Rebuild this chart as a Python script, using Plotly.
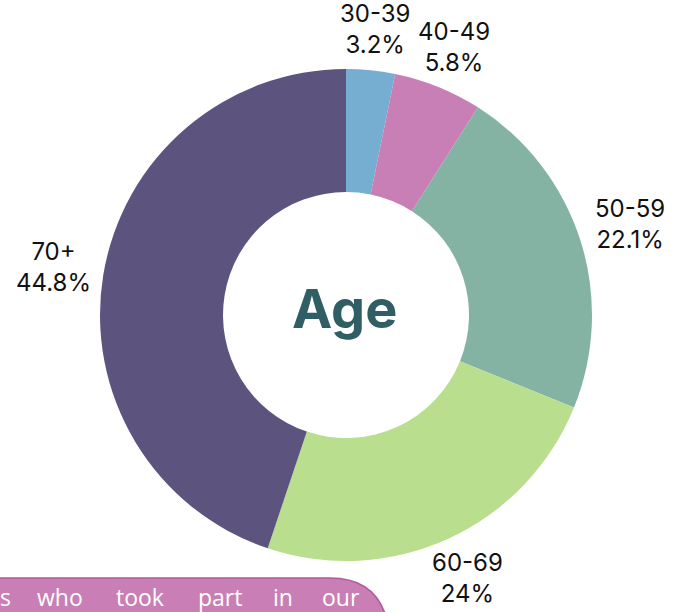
import math
import plotly.graph_objects as go

labels = ["30-39", "40-49", "50-59", "60-69", "70+"]
values = [3.2, 5.8, 22.1, 24, 44.8]
colors = ["#76AED1", "#C87FB6", "#84B3A4", "#B8DE8E", "#5C547F"]
center_title = "Age"
footer_words = ["s", "who", "took", "part", "in", "our"]
footer_x_px = [5, 60, 140, 220, 283, 341]

W, H = 673, 612
OFF = 0  # body margin removed via post_script


def px(x):
    return (x - OFF) / W


def py(y):
    return 1 - (y - OFF) / H


CX, CY, R = 346, 315, 246
LABEL_FONT = dict(family="Inter, sans-serif", size=24, color="#111111")

fig = go.Figure()
fig.add_trace(go.Pie(
    labels=labels,
    values=values,
    hole=0.5,
    sort=False,
    direction="clockwise",
    rotation=0,
    automargin=False,
    marker=dict(colors=colors, line=dict(width=0)),
    textinfo="none",
    showlegend=False,
    hoverinfo="label+percent",
    domain=dict(x=[px(CX - R), px(CX + R)], y=[py(CY + R), py(CY - R)]),
))

# outside labels placed at each slice's mid angle, just clear of the ring
total = sum(values)
cum = 0.0
HALF_W, HALF_H, GAP = 38, 29, 12
for lab, v in zip(labels, values):
    theta = math.radians((cum + v / 2) / total * 360)
    cum += v
    sx, sy = math.sin(theta), -math.cos(theta)
    ext = min(HALF_W / max(abs(sx), 1e-6), HALF_H / max(abs(sy), 1e-6))
    d = R + GAP + ext
    fig.add_annotation(
        text=f"{lab}<br>{v:g}%", x=px(CX + d * sx), y=py(CY + d * sy),
        xref="paper", yref="paper", showarrow=False,
        xanchor="center", yanchor="middle", font=LABEL_FONT,
    )

fig.add_annotation(
    text=f"<b>{center_title}</b>", x=px(345), y=py(308), xref="paper", yref="paper",
    showarrow=False, xanchor="center", yanchor="middle",
    font=dict(family="Inter, sans-serif", size=54, color="#2F5F64"),
)

# decorative footer box (partially cropped)
fig.add_shape(
    type="path", xref="paper", yref="paper",
    path=(f"M {px(-10)},{py(578)} L {px(330)},{py(578)} "
          f"Q {px(386)},{py(578)} {px(390)},{py(640)} L {px(-10)},{py(640)} Z"),
    fillcolor="#C97FB5", line=dict(color="#B0599B", width=1.5), layer="above",
)
for wd, x in zip(footer_words, footer_x_px):
    fig.add_annotation(
        text=wd, x=px(x), y=py(597), xref="paper", yref="paper", showarrow=False,
        xanchor="center", yanchor="middle",
        font=dict(family="Open Sans, sans-serif", size=23, color="#FFFFFF"),
    )

fig.update_layout(
    width=W, height=H,
    margin=dict(l=0, r=0, t=0, b=0, autoexpand=False),
    paper_bgcolor="white", plot_bgcolor="white",
)
fig.write_html(
    "out.html",
    config={"displayModeBar": False},
    post_script="document.body.style.margin='0';document.body.style.overflow='hidden';",
)
